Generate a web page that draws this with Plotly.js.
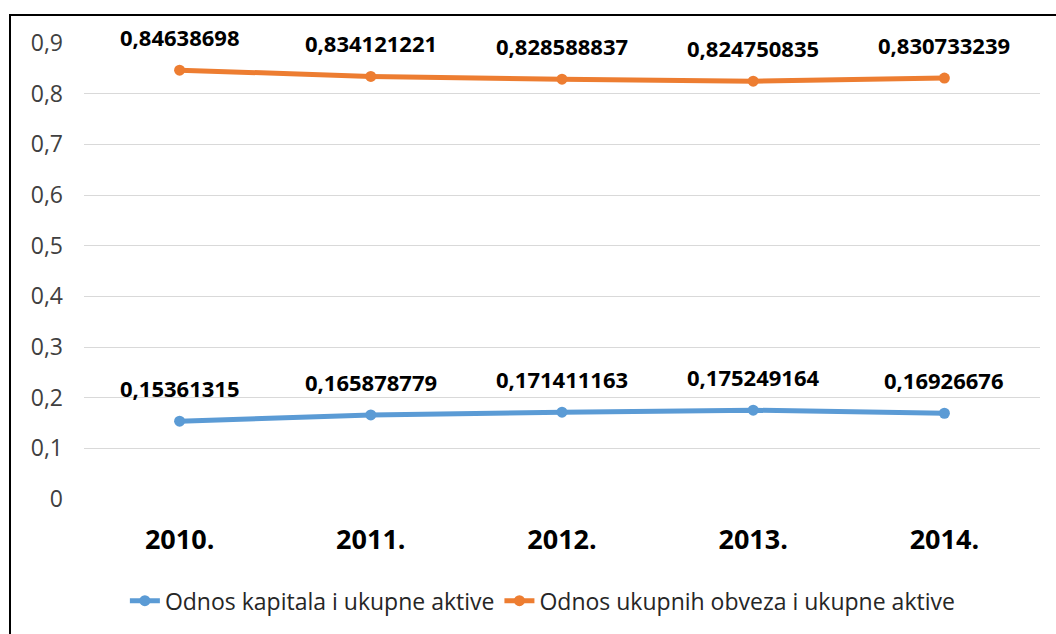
<!DOCTYPE html>
<html>
<head>
<meta charset="utf-8">
<script src="https://cdn.plot.ly/plotly-3.0.1.min.js"></script>
<style>
  html, body { margin: 0; padding: 0; background: #fff; overflow: hidden; }
  #chart { width: 1056px; height: 634px; }
  #frame { position: absolute; left: 9px; top: 14px; width: 1100px; height: 700px; border: 2px solid #000; pointer-events: none; }
</style>
</head>
<body>
<div id="chart"></div>
<div id="frame"></div>
<script>
const categories = ['2010.', '2011.', '2012.', '2013.', '2014.'];
const seriesNames = ['Odnos kapitala i ukupne aktive', 'Odnos ukupnih obveza i ukupne aktive'];
const kapital = [0.15361315, 0.165878779, 0.171411163, 0.175249164, 0.16926676];
const obveze = [0.84638698, 0.834121221, 0.828588837, 0.824750835, 0.830733239];
const yTicks = [0, 0.1, 0.2, 0.3, 0.4, 0.5, 0.6, 0.7, 0.8, 0.9];
const yTickText = ['0', '0,1', '0,2', '0,3', '0,4', '0,5', '0,6', '0,7', '0,8', '0,9'];
const colors = ['#5B9BD5', '#ED7D31'];

const fontFam = '"Open Sans", sans-serif';
const fmt = v => String(v).replace('.', ',');

const traces = [kapital, obveze].map((vals, i) => ({
  x: categories, y: vals, type: 'scatter', mode: 'lines+markers',
  name: seriesNames[i],
  line: { color: colors[i], width: 5 },
  marker: { color: colors[i], size: 11 },
  hoverinfo: 'none'
}));

const annotations = [];
[kapital, obveze].forEach(vals => {
  vals.forEach((v, j) => {
    annotations.push({
      x: j, y: v, xref: 'x', yref: 'y',
      text: '<b>' + fmt(v) + '</b>', showarrow: false, yshift: 33,
      xanchor: 'center', yanchor: 'middle',
      font: { family: fontFam, size: 22, color: '#000' }
    });
  });
});

const layout = {
  width: 1056, height: 634,
  margin: { l: 84, r: 16, t: 43, b: 133 },
  paper_bgcolor: '#fff', plot_bgcolor: '#fff',
  showlegend: true,
  legend: {
    orientation: 'h', x: 0.48, xanchor: 'center', y: -0.223, yanchor: 'middle',
    font: { family: fontFam, size: 23, color: '#262626' },
    tracegroupgap: 0
  },
  xaxis: {
    type: 'category', range: [-0.5, 4.5],
    showgrid: false, zeroline: false, showline: false, ticks: '',
    tickfont: { family: fontFam, size: 27, color: '#000', weight: 'bold' },
    ticklabelstandoff: 22
  },
  yaxis: {
    range: [0, 0.9], tickvals: yTicks, ticktext: yTickText,
    showgrid: true, gridcolor: '#D9D9D9', gridwidth: 1,
    zeroline: false, showline: false, ticks: '',
    tickfont: { family: fontFam, size: 23, color: '#404040' },
    ticklabelstandoff: 20
  },
  annotations: annotations
};

Plotly.newPlot('chart', traces, layout, { displayModeBar: false, staticPlot: true });
</script>
</body>
</html>
